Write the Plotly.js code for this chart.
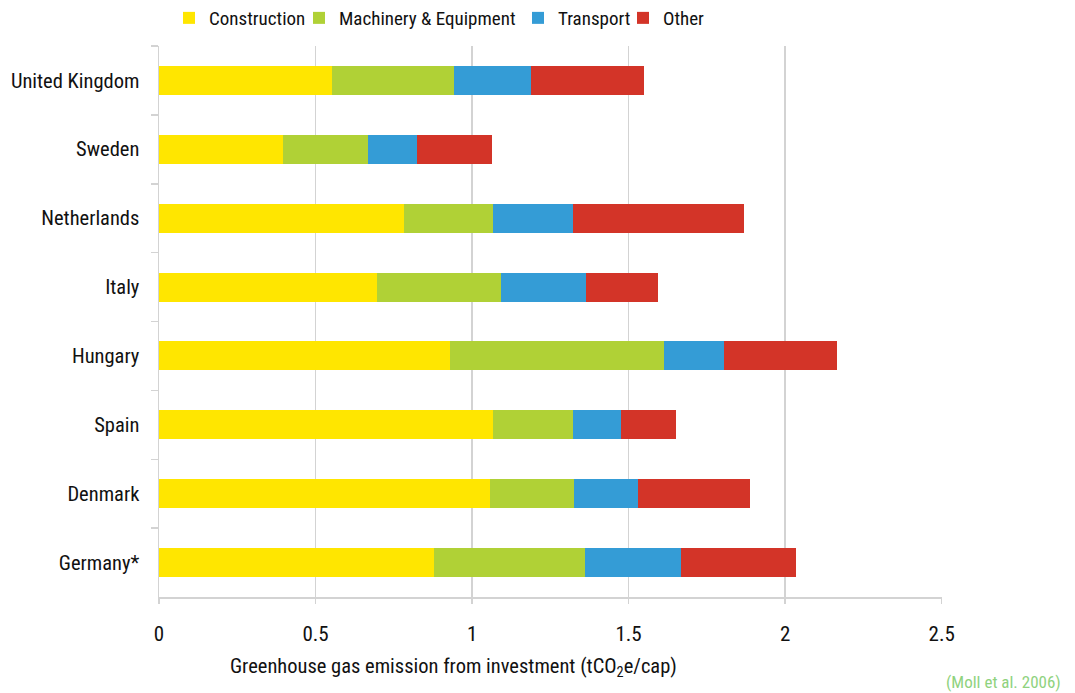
<!DOCTYPE html>
<html><head><meta charset="utf-8">
<script src="https://cdn.plot.ly/plotly-3.0.1.min.js"></script>
<style>html,body{margin:0;padding:0;background:#fff}#chart{width:1075px;height:693px}</style>
</head><body><div id="chart"></div>
<script>
const countries = ["United Kingdom","Sweden","Netherlands","Italy","Hungary","Spain","Denmark","Germany*"];
const construction = [0.553,0.397,0.782,0.695,0.930,1.067,1.057,0.877];
const machinery    = [0.390,0.270,0.284,0.396,0.684,0.256,0.268,0.485];
const transport    = [0.244,0.157,0.257,0.274,0.191,0.153,0.206,0.306];
const other        = [0.363,0.241,0.547,0.228,0.360,0.175,0.358,0.366];
const seriesNames  = ["Construction","Machinery & Equipment","Transport","Other"];
const colors = ["#FFE600","#B0D136","#349CD6","#D33428"];
const xTicks = [0,0.5,1,1.5,2,2.5];
const xTickText = ["0","0.5","1","1.5","2","2.5"];

const FONT = "'Roboto Condensed','DejaVu Sans Condensed',sans-serif";
const vals = [construction, machinery, transport, other];
const legendIds = ['legend','legend2','legend3','legend4'];
const legendTextStart = [209, 339, 558, 663];
const traces = vals.map((v,i)=>({
  type:'bar', orientation:'h', name:seriesNames[i], x:v, y:countries, legend:legendIds[i],
  marker:{color:colors[i], line:{width:0}}, hoverinfo:'x+name'
}));

const H = 693, MT = 46, MB = 96, PH = H - MT - MB;
const layout = {
  width:1075, height:H,
  margin:{l:159, r:133, t:MT, b:MB},
  barmode:'stack', bargap:0.58,
  paper_bgcolor:'#fff', plot_bgcolor:'#fff',
  font:{family:FONT, size:20, color:'#111'},
  showlegend:true,
  xaxis:{range:[0,2.501], tickvals:xTicks, ticktext:xTickText, showgrid:true, gridcolor:'#d3d3d3', gridwidth:1.5,
         zeroline:false, showline:true, linecolor:'#d3d3d3', linewidth:1.5, ticks:'outside', ticklen:5,
         tickcolor:'#d3d3d3', tickwidth:1.5, tickfont:{family:FONT,size:21,color:'#111'}, ticklabelstandoff:12},
  yaxis:{type:'category', categoryorder:'array', categoryarray:countries, autorange:'reversed',
         showgrid:false, zeroline:false, showline:true, linecolor:'#d3d3d3', linewidth:1.5,
         ticks:'outside', tickson:'boundaries', ticklen:7, tickcolor:'#d3d3d3', tickwidth:1.5,
         tickfont:{family:FONT,size:20.5,color:'#111'}, ticklabelstandoff:14},
  annotations:[
    {xref:'paper', yref:'paper', x:(453-159)/783, y:(H-MB-668)/PH, xanchor:'center', yanchor:'middle', showarrow:false,
     text:'Greenhouse gas emission from investment (tCO<sub>2</sub>e/cap)', font:{family:FONT,size:20.5,color:'#111'}},
    {xref:'paper', yref:'paper', x:(1063-159)/783, y:(H-MB-682)/PH, xanchor:'right', yanchor:'middle', showarrow:false,
     text:'(Moll et al. 2006)', font:{family:FONT,size:17,color:'#8fd27e'}}
  ]
};
legendIds.forEach((id,i)=>{
  layout[id] = {orientation:'h', xref:'container', yref:'container', x:(legendTextStart[i]-40)/1075, y:0.974,
    xanchor:'left', yanchor:'middle', font:{family:FONT, size:19, color:'#111'}, itemwidth:30, bgcolor:'rgba(0,0,0,0)'};
});
Plotly.newPlot('chart', traces, layout, {displayModeBar:false, staticPlot:true});
</script></body></html>
